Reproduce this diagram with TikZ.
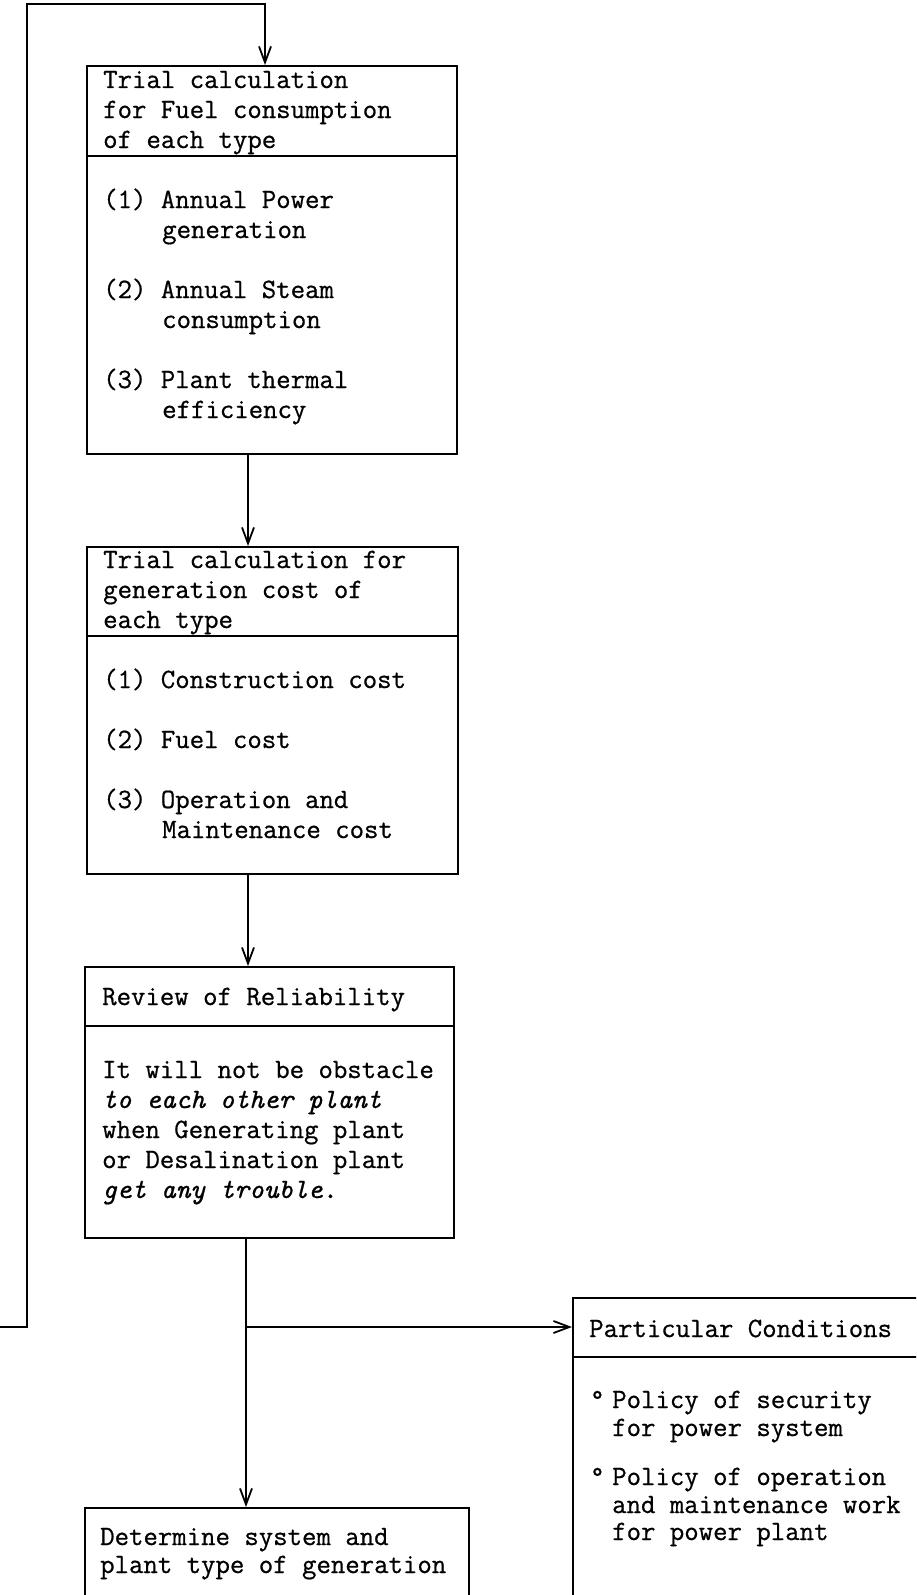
\documentclass[tikz,border=0pt]{standalone}
\usepackage{fontspec}
\setmonofont{Latin Modern Mono}[FakeBold=0.7]
\usetikzlibrary{arrows.meta}
\begin{document}
\begin{tikzpicture}[x=1pt,y=-1pt,
  box/.style={draw, line width=1.8pt, inner sep=0pt, anchor=north west},
  sep/.style={line width=1.8pt},
  txt/.style={anchor=base west, inner sep=0pt, font=\ttfamily\fontsize{28}{30}\selectfont},
  itxt/.style={txt, font=\ttfamily\fontsize{28}{30}\selectfont\itshape},
  conn/.style={line width=1.8pt, -{Straight Barb[length=16pt,width=12pt]}}]
\useasboundingbox (0,0) rectangle (916,1595);
\clip (0,0) rectangle (916,1595);
% boxes
\node[box, minimum width=370pt, minimum height=388pt] (b1) at (86,65) {};
\node[box, minimum width=371pt, minimum height=327pt] (b2) at (86,546) {};
\node[box, minimum width=369pt, minimum height=271pt] (b3) at (84,966) {};
\node[box, minimum width=384pt, minimum height=120pt] (b4) at (84,1507) {};
\node[box, minimum width=380pt, minimum height=330pt] (b5) at (572,1297) {};
% separators
\coordinate (s1) at (0,156);
\coordinate (s2) at (0,636);
\coordinate (s3) at (0,1026);
\coordinate (s5) at (0,1357);
\draw[sep] (b1.west |- s1) -- (b1.east |- s1);
\draw[sep] (b2.west |- s2) -- (b2.east |- s2);
\draw[sep] (b3.west |- s3) -- (b3.east |- s3);
\draw[sep] (b5.west |- s5) -- (b5.east |- s5);
% texts box 1
\node[txt] (t1a) at (103,88) {Trial calculation};
\node[txt] (t1b) at (103,118) {for Fuel consumption};
\node[txt] (t1c) at (103,148) {of each type};
\node[txt] (t1d) at (103,208) {(1) Annual Power};
\node[txt] (t1e) at (162,238) {generation};
\node[txt] (t1f) at (103,298) {(2) Annual Steam};
\node[txt] (t1g) at (162,328) {consumption};
\node[txt] (t1h) at (103,388) {(3) Plant thermal};
\node[txt] (t1i) at (162,418) {efficiency};
% texts box 2
\node[txt] (t2a) at (103,568) {Trial calculation for};
\node[txt] (t2b) at (103,598) {generation cost of};
\node[txt] (t2c) at (103,628) {each type};
\node[txt] (t2d) at (103,688) {(1) Construction cost};
\node[txt] (t2e) at (103,748) {(2) Fuel cost};
\node[txt] (t2f) at (103,808) {(3) Operation and};
\node[txt] (t2g) at (162,838) {Maintenance cost};
% texts box 3
\node[txt] (t3a) at (102,1005) {Review of Reliability};
\node[txt] (t3b) at (102,1078) {It will not be obstacle};
\node[itxt] (t3c) at (102,1108) {to each other plant};
\node[txt] (t3d) at (102,1138) {when Generating plant};
\node[txt] (t3e) at (102,1168) {or Desalination plant};
\node[itxt] (t3f) at (102,1198) {get any trouble.};
% texts box 4
\node[txt] (t4a) at (100,1545) {Determine system and};
\node[txt] (t4b) at (100,1573) {plant type of generation};
% texts box 5
\node[txt] (t5a) at (589,1337) {Particular Conditions};
\node[txt] (t5d1) at (590,1408) {\textdegree};
\node[txt] (t5b) at (612,1408) {Policy of security};
\node[txt] (t5c) at (612,1436) {for power system};
\node[txt] (t5d2) at (590,1485) {\textdegree};
\node[txt] (t5e) at (612,1485) {Policy of operation};
\node[txt] (t5f) at (612,1513) {and maintenance work};
\node[txt] (t5g) at (612,1540) {for power plant};
% connectors
\coordinate (fbstart) at (0,1327);
\coordinate (fbtop) at (27,4);
\coordinate (in1) at (265,65);
\draw[conn] (fbstart) -| (fbtop) -| (in1);
\coordinate (a12) at (248,0);
\coordinate (a34) at (246,0);
\draw[conn] (b1.south -| a12) -- (b2.north -| a12);
\draw[conn] (b2.south -| a12) -- (b3.north -| a12);
\draw[conn] (b3.south -| a34) -- (b4.north -| a34);
\coordinate (br) at (246,1327);
\draw[conn] (br) -- (b5.west |- br);
\end{tikzpicture}
\end{document}
